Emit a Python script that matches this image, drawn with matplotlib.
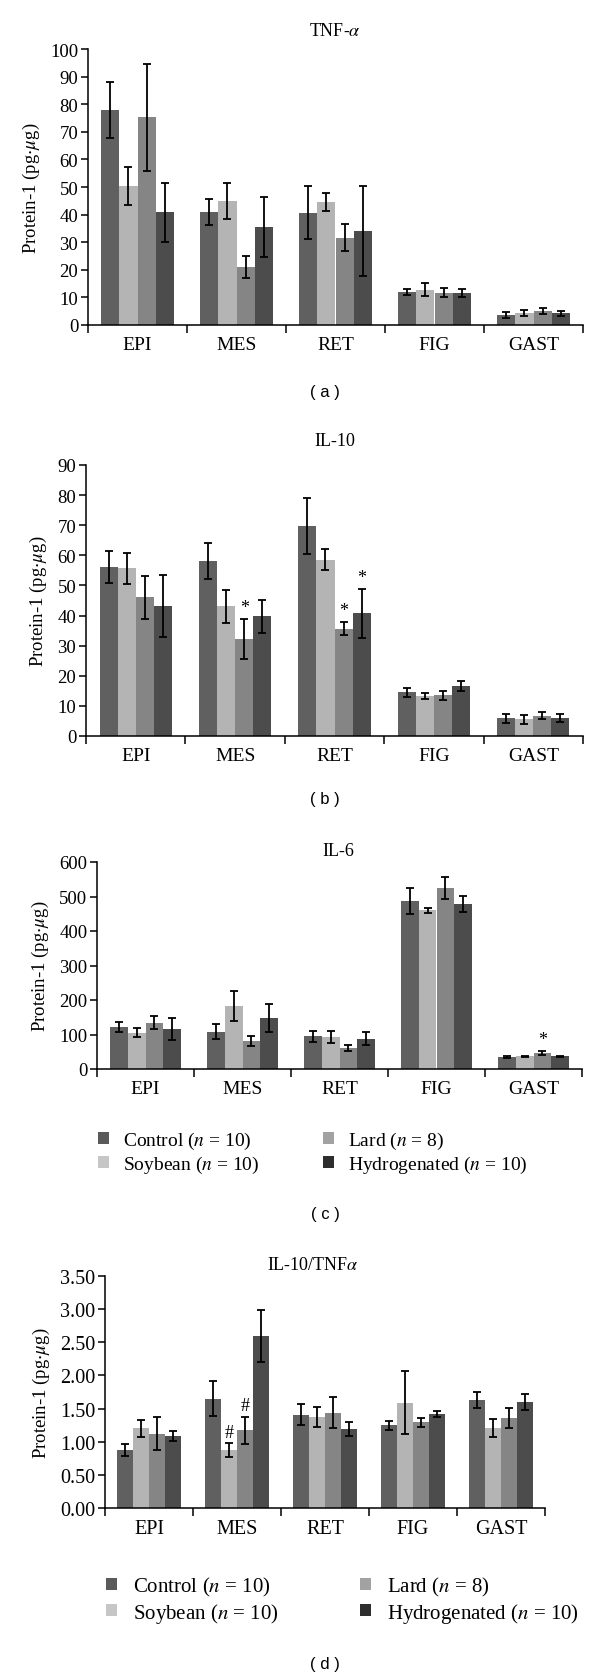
import matplotlib
matplotlib.use("Agg")
import matplotlib.pyplot as plt
from matplotlib.patches import Patch
import numpy as np

plt.rcParams['font.family'] = ['Liberation Serif', 'DejaVu Serif']
plt.rcParams['mathtext.fontset'] = 'stix'

categories = ["EPI", "MES", "RET", "FIG", "GAST"]
series = ["Control ($n$ = 10)", "Soybean ($n$ = 10)", "Lard ($n$ = 8)", "Hydrogenated ($n$ = 10)"]
bar_colors = ["#606060", "#b4b4b4", "#858585", "#4c4c4c"]
legend_colors = ["#5a5a5a", "#c6c6c6", "#a2a2a2", "#2e2e2e"]

# Panel (a) TNF-alpha
tnf_control = [78.0, 40.9, 40.7, 12.0, 3.6]
tnf_soybean = [50.3, 44.8, 44.6, 12.8, 4.3]
tnf_lard = [75.2, 21.0, 31.7, 11.7, 5.1]
tnf_hydro = [40.9, 35.5, 34.0, 11.7, 4.2]
tnf_control_err = [10.2, 4.7, 9.5, 1.2, 1.0]
tnf_soybean_err = [6.8, 6.5, 3.3, 2.3, 1.1]
tnf_lard_err = [19.5, 4.1, 4.8, 1.7, 1.2]
tnf_hydro_err = [10.7, 10.8, 16.2, 1.5, 0.9]

# Panel (b) IL-10
il10_control = [56.0, 58.1, 69.7, 14.6, 5.9]
il10_soybean = [55.7, 43.1, 58.6, 13.3, 5.5]
il10_lard = [46.0, 32.2, 35.7, 13.6, 6.8]
il10_hydro = [43.3, 39.7, 40.7, 16.6, 5.9]
il10_control_err = [5.3, 6.1, 9.2, 1.5, 1.5]
il10_soybean_err = [5.2, 5.5, 3.4, 1.0, 1.5]
il10_lard_err = [7.1, 6.7, 2.3, 1.5, 1.2]
il10_hydro_err = [10.3, 5.4, 8.2, 1.8, 1.3]

# Panel (c) IL-6
il6_control = [122.0, 108.0, 94.5, 488.0, 34.7]
il6_soybean = [105.0, 182.0, 92.6, 460.0, 37.0]
il6_lard = [133.5, 81.0, 61.0, 524.7, 46.3]
il6_hydro = [115.5, 147.6, 87.8, 479.0, 36.7]
il6_control_err = [13.5, 21.5, 15.5, 37.6, 2.0]
il6_soybean_err = [13.5, 44.0, 16.5, 7.7, 2.0]
il6_lard_err = [19.0, 15.5, 9.0, 33.0, 6.0]
il6_hydro_err = [32.0, 41.0, 18.0, 23.6, 2.0]

# Panel (d) IL-10/TNF-alpha
ratio_control = [0.87, 1.65, 1.41, 1.25, 1.63]
ratio_soybean = [1.20, 0.87, 1.37, 1.59, 1.21]
ratio_lard = [1.12, 1.17, 1.44, 1.29, 1.36]
ratio_hydro = [1.09, 2.59, 1.19, 1.42, 1.60]
ratio_control_err = [0.09, 0.26, 0.16, 0.07, 0.115]
ratio_soybean_err = [0.13, 0.105, 0.155, 0.47, 0.135]
ratio_lard_err = [0.25, 0.21, 0.24, 0.075, 0.15]
ratio_hydro_err = [0.075, 0.39, 0.10, 0.05, 0.12]

# significance marks: (category index, series index, symbol)
marks_b = [(1, 2, "*"), (2, 2, "*"), (2, 3, "*")]
marks_c = [(4, 2, "*")]
marks_d = [(1, 1, "#"), (1, 2, "#")]

W, H = 600, 1681
fig = plt.figure(figsize=(W / 100, H / 100), dpi=100)


def add_axes_px(left, right, top, bottom):
    return fig.add_axes([left / W, 1 - bottom / H, (right - left) / W, (bottom - top) / H])


def draw_panel(ax, vals, errs, ymax, ystep, yfmt, marks, tick_fs=13.5, cat_fs=14):
    n = len(categories)
    x = np.arange(n)
    width = 0.182
    for i, (v, e) in enumerate(zip(vals, errs)):
        xs = x + (i - 1.5) * width
        ax.bar(xs, v, width=width, color=bar_colors[i], edgecolor='none', zorder=2)
        ax.errorbar(xs, v, yerr=e, fmt='none', ecolor='black', elinewidth=1.3,
                    capsize=3, capthick=1.3, zorder=3)
    for (ci, si, sym) in marks:
        xs = ci + (si - 1.5) * width
        top = vals[si][ci] + errs[si][ci]
        ax.annotate(sym, (xs, top), xytext=(0, 2), textcoords='offset points',
                    ha='center', va='bottom', fontsize=13)
    ax.set_xlim(-0.5, n - 0.5)
    ax.set_ylim(0, ymax)
    ticks = np.arange(0, ymax + ystep / 2, ystep)
    ax.set_yticks(ticks)
    ax.set_yticklabels([yfmt.format(t) for t in ticks], fontsize=tick_fs)
    ax.set_xticks(np.arange(-0.5, n, 1.0))
    ax.set_xticklabels([])
    ax.set_xticks(x, minor=True)
    ax.set_xticklabels(categories, minor=True, fontsize=cat_fs)
    ax.tick_params(axis='x', which='minor', length=0, pad=8)
    ax.tick_params(axis='x', which='major', length=6, width=1.1, direction='out')
    ax.tick_params(axis='y', length=5, width=1.1, direction='out', pad=2)
    for s in ['top', 'right']:
        ax.spines[s].set_visible(False)
    for s in ['left', 'bottom']:
        ax.spines[s].set_linewidth(1.1)
    ax.set_ylabel("Protein-1 (pg$\\cdot\\mu$g)", fontsize=13.5, labelpad=6)


ax_a = add_axes_px(88, 583, 50, 326)
draw_panel(ax_a, [tnf_control, tnf_soybean, tnf_lard, tnf_hydro],
           [tnf_control_err, tnf_soybean_err, tnf_lard_err, tnf_hydro_err],
           100, 10, "{:.0f}", [])

ax_b = add_axes_px(86, 583, 466, 737)
draw_panel(ax_b, [il10_control, il10_soybean, il10_lard, il10_hydro],
           [il10_control_err, il10_soybean_err, il10_lard_err, il10_hydro_err],
           90, 10, "{:.0f}", marks_b)

ax_c = add_axes_px(97, 582, 863, 1070)
draw_panel(ax_c, [il6_control, il6_soybean, il6_lard, il6_hydro],
           [il6_control_err, il6_soybean_err, il6_lard_err, il6_hydro_err],
           600, 100, "{:.0f}", marks_c)

ax_d = add_axes_px(105, 545, 1277, 1509)
draw_panel(ax_d, [ratio_control, ratio_soybean, ratio_lard, ratio_hydro],
           [ratio_control_err, ratio_soybean_err, ratio_lard_err, ratio_hydro_err],
           3.5, 0.5, "{:.2f}", marks_d, tick_fs=14.5, cat_fs=14.5)

titles = [("TNF-$\\alpha$", 335, 32), ("IL-10", 335, 442), ("IL-6", 338, 852),
          ("IL-10/TNF$\\alpha$", 313, 1265)]
for t, x, y in titles:
    fig.text(x / W, 1 - y / H, t, ha='center', va='center', fontsize=13)


def add_legend(x1, x2, y_top, fs, spacing):
    for col, idxs in enumerate([(0, 1), (2, 3)]):
        handles = [Patch(facecolor=legend_colors[i], edgecolor='none') for i in idxs]
        labels = [series[i] for i in idxs]
        fig.legend(handles, labels, loc='upper left',
                   bbox_to_anchor=((x1 if col == 0 else x2) / W, 1 - y_top / H),
                   frameon=False, fontsize=fs, handlelength=0.55, handleheight=0.55,
                   handletextpad=0.75, labelspacing=spacing, borderpad=0, borderaxespad=0)


add_legend(98, 323, 1131, 14, 0.12)
add_legend(106, 360, 1576, 15, 0.12)

for lbl, y in [("( a )", 393), ("( b )", 800), ("( c )", 1215), ("( d )", 1665)]:
    fig.text(325 / W, 1 - y / H, lbl, ha='center', va='center', fontsize=12,
             family=['Liberation Sans', 'DejaVu Sans'])

fig.savefig("out.png", dpi=100)
